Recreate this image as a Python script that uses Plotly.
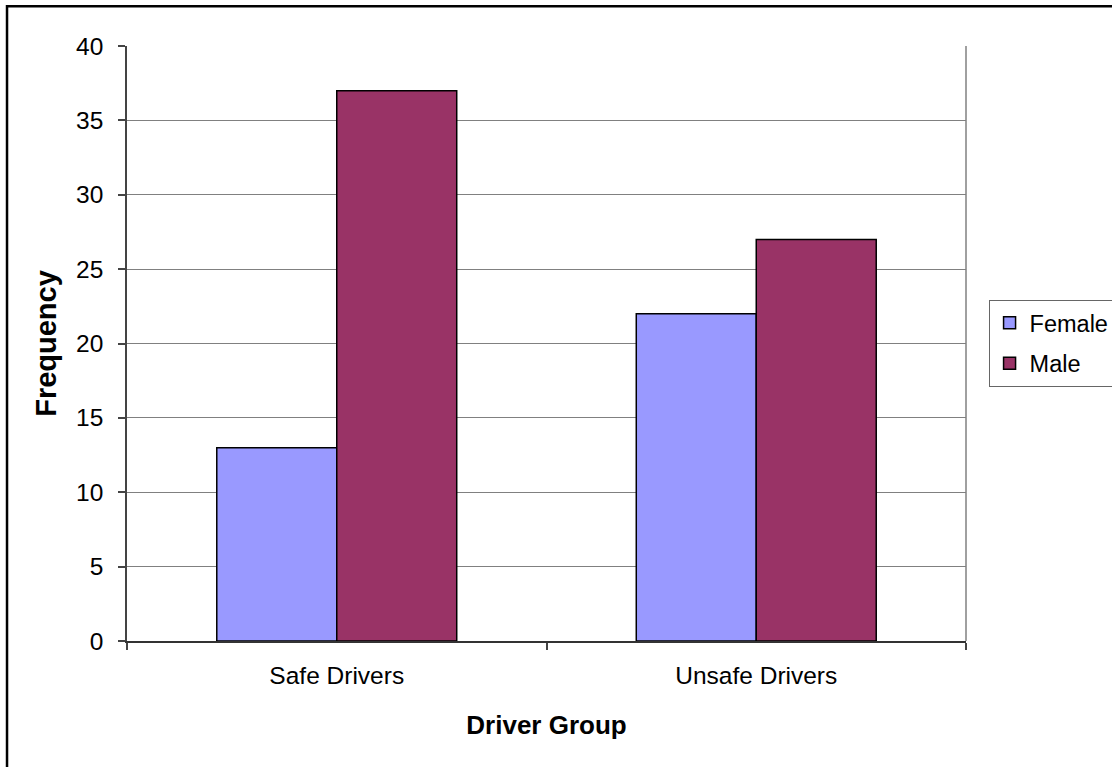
import plotly.graph_objects as go

# Driver counts by group and sex
groups = ["Safe Drivers", "Unsafe Drivers"]
female = [13, 22]
male = [37, 27]

FONT = "Liberation Sans, Arial, sans-serif"

fig = go.Figure()
fig.add_trace(go.Bar(
    name="Female", x=groups, y=female, legendgroup="f",
    marker=dict(color="#9999FF", line=dict(color="#000000", width=1.5)),
))
fig.add_trace(go.Bar(
    name="Male", x=groups, y=male, legendgroup="m",
    marker=dict(color="#993366", line=dict(color="#000000", width=1.5)),
))

fig.update_layout(
    width=1112, height=767,
    margin=dict(l=127, r=146, t=46, b=126, autoexpand=False),
    paper_bgcolor="white", plot_bgcolor="white",
    barmode="group", bargap=0.428, bargroupgap=0,
    font=dict(family=FONT, size=24.5, color="#000000"),
    showlegend=True,
    legend=dict(
        xref="container", yref="container",
        x=0.889, y=0.609, xanchor="left", yanchor="top",
        bordercolor="#666666", borderwidth=1, bgcolor="white",
        font=dict(size=23.5), tracegroupgap=7, itemwidth=30,
    ),
    xaxis=dict(
        type="category", tickson="boundaries",
        ticks="outside", ticklen=7, tickcolor="#444444", tickwidth=1.5,
        showline=True, linecolor="#333333", linewidth=1.5,
        showgrid=False, ticklabelstandoff=12,
        title=dict(text="<b>Driver Group</b>", font=dict(size=26), standoff=28),
    ),
    yaxis=dict(
        range=[0, 40], dtick=5,
        ticks="outside", ticklen=7, tickcolor="#444444", tickwidth=1.5,
        showline=True, linecolor="#444444", linewidth=1.5,
        showgrid=True, gridcolor="#808080", gridwidth=1,
        ticklabelstandoff=10, zeroline=False,
        title=dict(text="<b>Frequency</b>", font=dict(size=29), standoff=11),
    ),
    shapes=[
        # right edge of the plotting area
        dict(type="line", xref="paper", yref="paper", x0=1, x1=1, y0=0, y1=1,
             line=dict(color="#808080", width=1.5)),
        # outer chart frame
        dict(type="rect", xref="paper", yref="paper",
             x0=-0.143, x1=1.2, y0=-0.3, y1=1.067,
             line=dict(color="#000000", width=2.5)),
    ],
)

fig.write_html("out.html")
